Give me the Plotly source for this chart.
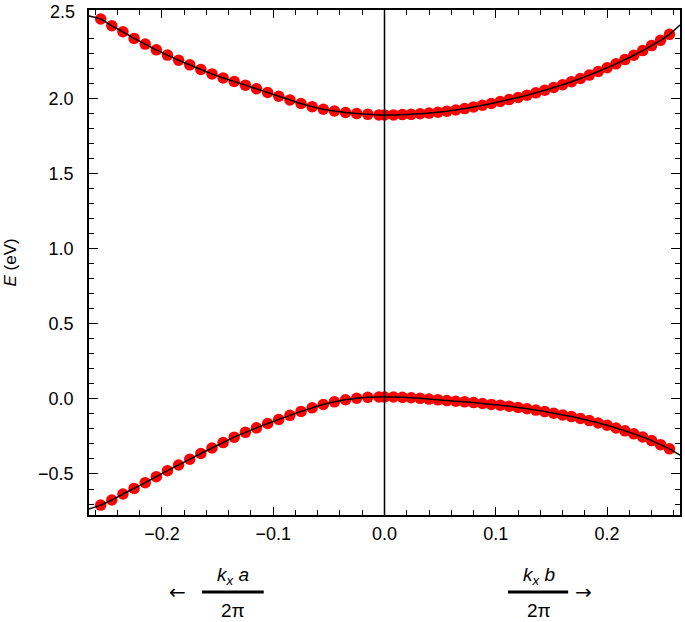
import plotly.graph_objects as go

# ---- data ----
# left half: k_x a / 2pi (negative), right half: k_x b / 2pi (positive)
k_left = [-0.255, -0.245, -0.235, -0.225, -0.215, -0.205, -0.195, -0.185, -0.175,
          -0.165, -0.155, -0.145, -0.135, -0.125, -0.115, -0.105, -0.095, -0.085,
          -0.075, -0.065, -0.055, -0.045, -0.035, -0.025, -0.015, -0.005]
cb_left = [2.527, 2.482, 2.442, 2.398, 2.360, 2.322, 2.287, 2.253, 2.222,
           2.191, 2.162, 2.135, 2.111, 2.087, 2.063, 2.038, 2.013, 1.989,
           1.965, 1.944, 1.927, 1.915, 1.905, 1.898, 1.893, 1.889]
vb_left = [-0.707, -0.673, -0.633, -0.596, -0.558, -0.518, -0.478, -0.440, -0.402,
           -0.364, -0.327, -0.291, -0.255, -0.223, -0.193, -0.164, -0.137, -0.110,
           -0.084, -0.060, -0.038, -0.020, -0.006, 0.004, 0.010, 0.012]

k_right = [0.000, 0.008, 0.016, 0.024, 0.032, 0.040, 0.048, 0.056, 0.064, 0.072,
           0.080, 0.088, 0.096, 0.104, 0.112, 0.120, 0.128, 0.136, 0.144, 0.152,
           0.160, 0.168, 0.176, 0.184, 0.192, 0.200, 0.208, 0.216, 0.224, 0.232,
           0.240, 0.248, 0.256]
cb_right = [1.889, 1.889, 1.891, 1.893, 1.897, 1.901, 1.907, 1.914, 1.922, 1.931,
            1.942, 1.953, 1.965, 1.978, 1.991, 2.005, 2.020, 2.036, 2.053, 2.071,
            2.090, 2.110, 2.131, 2.154, 2.178, 2.203, 2.229, 2.257, 2.286, 2.317,
            2.350, 2.385, 2.425]
vb_right = [0.012, 0.012, 0.010, 0.007, 0.003, -0.002, -0.007, -0.012, -0.016, -0.020,
            -0.025, -0.031, -0.037, -0.042, -0.049, -0.057, -0.066, -0.075, -0.085, -0.096,
            -0.107, -0.118, -0.131, -0.145, -0.161, -0.176, -0.194, -0.213, -0.233, -0.254,
            -0.278, -0.305, -0.333]

# fitted curve end points at the frame edges
k_edges = [-0.2655, 0.2655]
cb_edges = [2.547, 2.487]
vb_edges = [-0.733, -0.375]

x_range = [-0.2655, 0.2655]
y_range = [-0.773, 2.587]
y_major = [-0.5, 0.0, 0.5, 1.0, 1.5, 2.0]
y_major_text = ["\u22120.5", "0.0", "0.5", "1.0", "1.5", "2.0"]
y_minor = [-0.7, -0.6, -0.4, -0.3, -0.2, -0.1, 0.1, 0.2, 0.3, 0.4, 0.6, 0.7, 0.8, 0.9,
           1.1, 1.2, 1.3, 1.4, 1.6, 1.7, 1.8, 1.9, 2.1, 2.2, 2.3, 2.4]
x_major = [-0.2, -0.1, 0.0, 0.1, 0.2]
x_major_text = ["\u22120.2", "\u22120.1", "0.0", "0.1", "0.2"]

FONT = "Liberation Sans, Arial, Helvetica, sans-serif"
ARROW_FONT = "DejaVu Sans, sans-serif"

k_all = k_left + k_right
cb_all = cb_left + cb_right
vb_all = vb_left + vb_right

fig = go.Figure()
for E in (cb_all, vb_all):
    fig.add_trace(go.Scatter(x=k_all, y=E, mode="markers",
                             marker=dict(color="#ff0000", size=11.5, line=dict(width=0)),
                             showlegend=False, hoverinfo="skip", cliponaxis=False))
for E, Ee in ((cb_all, cb_edges), (vb_all, vb_edges)):
    fig.add_trace(go.Scatter(x=[k_edges[0]] + k_all + [k_edges[1]],
                             y=[Ee[0]] + E + [Ee[1]], mode="lines",
                             line=dict(color="black", width=1.5, shape="spline", smoothing=0.6),
                             showlegend=False, hoverinfo="skip"))

# vertical line at k = 0
fig.add_shape(type="line", xref="x", yref="paper", x0=0, x1=0, y0=0, y1=1,
              line=dict(color="black", width=1.5))

axis_common = dict(showgrid=False, zeroline=False, showline=True, linecolor="black",
                   linewidth=1.5, mirror="allticks", ticks="inside", tickcolor="black",
                   tickwidth=1.2, tickfont=dict(family=FONT, size=18, color="black"))

fig.update_xaxes(range=x_range, tickmode="array", tickvals=x_major, ticktext=x_major_text,
                 ticklen=8, ticklabelstandoff=2,
                 minor=dict(dtick=0.02, tick0=0, ticklen=5, ticks="inside",
                            tickcolor="black", tickwidth=1.2),
                 **axis_common)
fig.update_yaxes(range=y_range, tickmode="array", tickvals=y_major, ticktext=y_major_text,
                 ticklen=9, ticklabelstandoff=10,
                 minor=dict(tickmode="array", tickvals=y_minor, ticklen=5, ticks="inside",
                            tickcolor="black", tickwidth=1.2),
                 **axis_common)

ann = []
# top label "2.5"
ann.append(dict(xref="paper", yref="paper", x=0, y=1, xanchor="right", yanchor="middle",
                xshift=-12, yshift=-2, text="2.5", showarrow=False,
                font=dict(family=FONT, size=18, color="black")))
# y-axis title
ann.append(dict(xref="paper", yref="paper", x=0, y=0.5, xanchor="center", yanchor="middle",
                xshift=-79, yshift=0, textangle=-90, text="<i>E</i> (eV)", showarrow=False,
                font=dict(family=FONT, size=17, color="black")))

# bottom fraction labels
def frac(xc, num, arrow, xarrow):
    ann.append(dict(xref="x", yref="paper", x=xc, y=-0.121, xanchor="center", yanchor="middle",
                    text=num, showarrow=False, font=dict(family=FONT, size=19, color="black")))
    ann.append(dict(xref="x", yref="paper", x=xc, y=-0.19, xanchor="center", yanchor="middle",
                    text="2\u03c0", showarrow=False, font=dict(family=FONT, size=19, color="black")))
    ann.append(dict(xref="x", yref="paper", x=xarrow, y=-0.1525, xanchor="center", yanchor="middle",
                    text=arrow, showarrow=False, font=dict(family=ARROW_FONT, size=20, color="black")))

frac(-0.1363, "<i>k</i><sub><i>x</i></sub> <i>a</i>", "\u2190", -0.1857)
frac(0.139, "<i>k</i><sub><i>x</i></sub> <i>b</i>", "\u2192", 0.179)
fig.add_shape(type="line", xref="x", yref="paper", x0=-0.164, x1=-0.1085, y0=-0.1525, y1=-0.1525,
              line=dict(color="black", width=3))
fig.add_shape(type="line", xref="x", yref="paper", x0=0.111, x1=0.165, y0=-0.1525, y1=-0.1525,
              line=dict(color="black", width=3))

fig.update_layout(width=685, height=622, margin=dict(l=89, r=3, t=10, b=107),
                  paper_bgcolor="white", plot_bgcolor="white", annotations=ann,
                  font=dict(family=FONT, color="black"))

fig.write_html("out.html", config={"displayModeBar": False},
               post_script="document.body.style.margin='0';document.body.style.overflow='hidden';")
